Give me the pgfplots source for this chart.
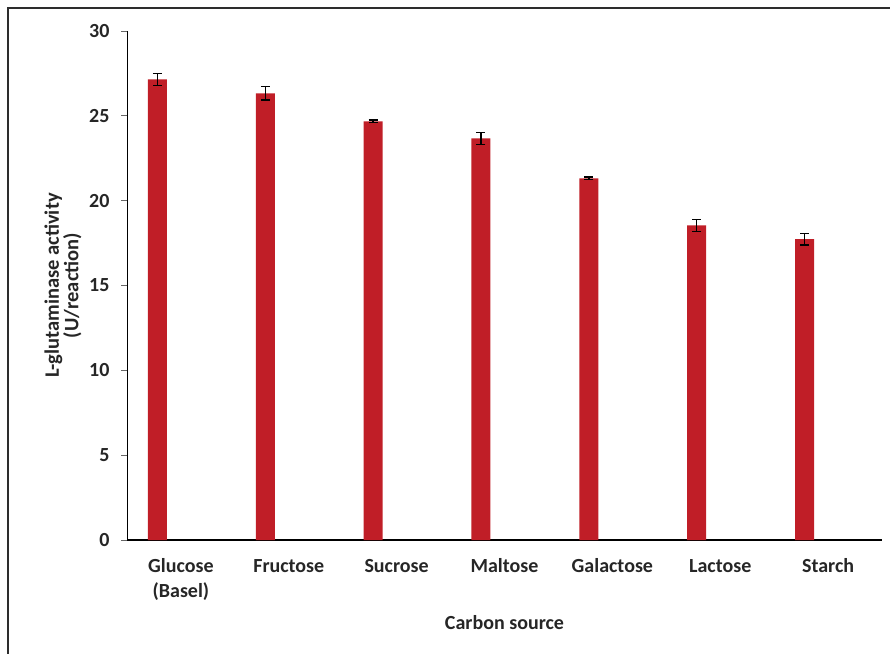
\documentclass[border=0pt]{standalone}
\usepackage{pgfplots}
\pgfplotsset{compat=1.18}
\usepackage{fontspec}
\setmainfont{Carlito}
\definecolor{barred}{RGB}{192,30,39}
\definecolor{txt}{RGB}{38,38,38}
\definecolor{framegray}{RGB}{45,45,45}

% activity per carbon source: bar position (left part of each category), mean, standard error
\pgfplotstableread{
x       y      err
-0.218  27.15  0.35
0.782   26.33  0.39
1.782   24.68  0.08
2.782   23.67  0.34
3.782   21.32  0.08
4.782   18.55  0.35
5.782   17.73  0.35
}\activity

\begin{document}
\begin{tikzpicture}[x=1pt,y=1pt]
\useasboundingbox (0,0) rectangle (890,653);
\begin{scope}
  \clip (0,0) rectangle (890,653);
  \draw[line width=1.6pt, framegray] (8,-20) -- (8,645) -- (910,645);
\end{scope}
\begin{axis}[
  at={(127pt,113pt)}, anchor=south west,
  scale only axis, width=755pt, height=509pt,
  xmin=-0.5, xmax=6.5, ymin=0, ymax=30,
  axis x line*=bottom, axis y line*=left,
  x axis line style={line width=2pt, black},
  y axis line style={line width=0.9pt, black},
  xtick={0,...,6},
  xticklabels={{\begin{tabular}[t]{@{}c@{}}Glucose\\(Basel)\end{tabular}},
    Fructose,Sucrose,Maltose,Galactose,Lactose,Starch},
  ytick={0,5,...,30},
  tick align=outside,
  major tick length=6pt,
  xtick style={draw=none},
  ytick style={line width=0.9pt, black!60},
  /pgf/number format/assume math mode=true,
  ticklabel style={font=\fontsize{20}{25}\selectfont\bfseries, text=txt},
  xticklabel style={anchor=base, yshift=-26pt},
  yticklabel style={xshift=-8pt},
  xlabel={Carbon source},
  xlabel style={font=\fontsize{20}{25}\selectfont\bfseries, text=txt,
    at={(axis description cs:0.5,0)}, anchor=base, yshift=-89pt},
  ylabel={L-glutaminase activity\\(U/reaction)},
  ylabel style={font=\fontsize{20.5}{19.5}\selectfont\bfseries, text=txt,
    align=center, at={(axis description cs:0,0.5)}, anchor=center, yshift=64pt},
  clip=false,
]
\addplot[ybar, bar width=19pt, bar shift=0pt, fill=barred, draw=none,
  error bars/.cd, y dir=both, y explicit,
  error bar style={line width=1.3pt, black},
  error mark options={rotate=90, mark size=4.5pt, line width=1.3pt, black}]
  table[x=x, y=y, y error=err] {\activity};
\end{axis}
\end{tikzpicture}
\end{document}
